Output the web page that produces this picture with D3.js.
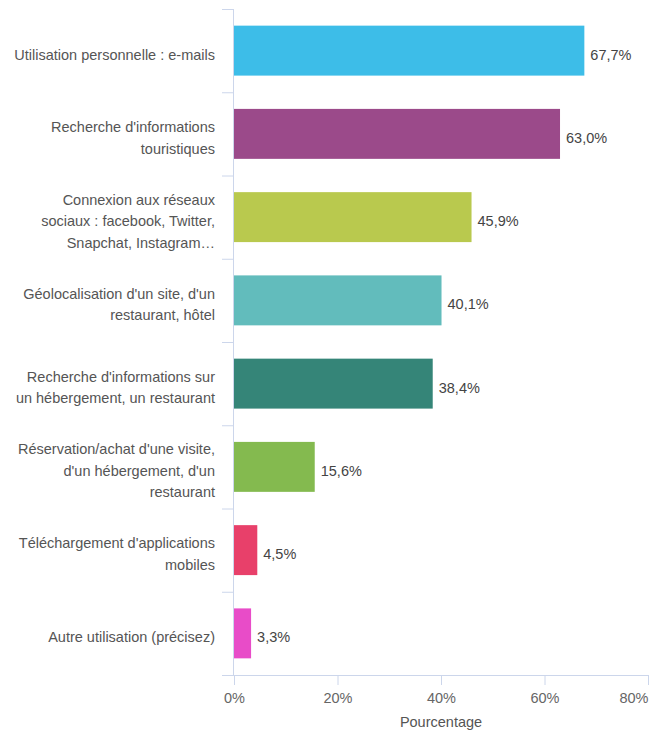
<!DOCTYPE html>
<html>
<head>
<meta charset="utf-8">
<script src="https://cdn.jsdelivr.net/npm/d3@7"></script>
<style>
  body { margin: 0; background: #fff; }
  text { font-family: "Liberation Sans", Arial, sans-serif; }
</style>
</head>
<body>
<div id="chart"></div>
<script>
const categories = [
  "Utilisation personnelle : e-mails",
  "Recherche d'informations touristiques",
  "Connexion aux réseaux sociaux : facebook, Twitter, Snapchat, Instagram…",
  "Géolocalisation d'un site, d'un restaurant, hôtel",
  "Recherche d'informations sur un hébergement, un restaurant",
  "Réservation/achat d'une visite, d'un hébergement, d'un restaurant",
  "Téléchargement d'applications mobiles",
  "Autre utilisation (précisez)"
];
const labelLines = [
  ["Utilisation personnelle : e-mails"],
  ["Recherche d'informations", "touristiques"],
  ["Connexion aux réseaux", "sociaux : facebook, Twitter,", "Snapchat, Instagram…"],
  ["Géolocalisation d'un site, d'un", "restaurant, hôtel"],
  ["Recherche d'informations sur", "un hébergement, un restaurant"],
  ["Réservation/achat d'une visite,", "d'un hébergement, d'un", "restaurant"],
  ["Téléchargement d'applications", "mobiles"],
  ["Autre utilisation (précisez)"]
];
const values = [67.7, 63.0, 45.9, 40.1, 38.4, 15.6, 4.5, 3.3];
const colors = ["#3dbde8", "#9b4a8a", "#b9c94e", "#62bcbc", "#358578", "#84ba4f", "#e8406a", "#e84cc8"];
const xTicks = [0, 20, 40, 60, 80];
const xTitle = "Pourcentage";

const w = 652, h = 730;
const plotLeft = 234, plotRight = 648, plotTop = 9, plotBottom = 675;
const axisColor = "#ccd6eb";
const fontSize = 14.5;

const fr = d3.formatLocale({ decimal: ",", thousands: " ", grouping: [3], currency: ["", "€"] });
const fmt = fr.format(".1f");

const svg = d3.select("#chart").append("svg")
  .attr("width", w)
  .attr("height", h);

const x = d3.scaleLinear().domain([0, 80]).range([plotLeft, plotRight]);
const y = d3.scaleBand().domain(categories).range([plotTop, plotBottom])
  .paddingInner(0.4).paddingOuter(0.2);
// category boundaries for the tick marks
const yTick = d3.scaleLinear().domain([0, categories.length]).range([plotTop, plotBottom]);

// left axis line + category ticks
svg.append("line")
  .attr("x1", plotLeft - 0.5).attr("x2", plotLeft - 0.5)
  .attr("y1", plotTop).attr("y2", plotBottom)
  .attr("stroke", axisColor);
svg.selectAll(".ytick")
  .data(d3.range(categories.length))
  .enter().append("line")
  .attr("class", "ytick")
  .attr("x1", plotLeft - 12).attr("x2", plotLeft)
  .attr("y1", d => yTick(d) + 0.5).attr("y2", d => yTick(d) + 0.5)
  .attr("stroke", axisColor);

// bars
svg.selectAll("rect.bar")
  .data(values)
  .enter().append("rect")
  .attr("class", "bar")
  .attr("x", plotLeft)
  .attr("y", (d, i) => y(categories[i]))
  .attr("width", d => x(d) - plotLeft)
  .attr("height", y.bandwidth())
  .attr("fill", (d, i) => colors[i]);

// value labels
svg.selectAll("text.val")
  .data(values)
  .enter().append("text")
  .attr("class", "val")
  .attr("x", d => x(d) + 6)
  .attr("y", (d, i) => y(categories[i]) + y.bandwidth() / 2 + 4)
  .attr("dominant-baseline", "central")
  .attr("font-size", fontSize)
  .attr("fill", "#444")
  .text(d => fmt(d) + "%");

// category labels
const lineH = 21.5;
svg.selectAll("text.cat")
  .data(labelLines)
  .enter().append("text")
  .attr("class", "cat")
  .attr("text-anchor", "end")
  .attr("font-size", fontSize)
  .attr("fill", "#555")
  .each(function(lines, i) {
    const cy = y(categories[i]) + y.bandwidth() / 2 + 4;
    const y0 = cy - (lines.length - 1) * lineH / 2;
    d3.select(this).selectAll("tspan")
      .data(lines)
      .enter().append("tspan")
      .attr("x", 215)
      .attr("y", (l, j) => y0 + j * lineH)
      .attr("dominant-baseline", "central")
      .text(l => l);
  });

// bottom axis
const xAxis = d3.axisBottom(x)
  .tickValues(xTicks)
  .tickSize(10)
  .tickFormat(d => d + "%");

const gx = svg.append("g")
  .attr("transform", `translate(0, ${plotBottom})`)
  .call(xAxis);
gx.select(".domain").remove();
gx.selectAll(".tick line").attr("stroke", axisColor);
gx.selectAll(".tick text")
  .attr("font-size", fontSize)
  .attr("font-family", "Liberation Sans, Arial, sans-serif")
  .attr("fill", "#666")
  .attr("dy", "1.05em");
// keep the last label inside the picture, like the original
gx.selectAll(".tick text")
  .filter(d => d === xTicks[xTicks.length - 1])
  .attr("text-anchor", "end")
  .attr("x", 0);
svg.append("line")
  .attr("x1", plotLeft - 12).attr("x2", plotRight + 1)
  .attr("y1", plotBottom + 0.5).attr("y2", plotBottom + 0.5)
  .attr("stroke", axisColor);

svg.append("text")
  .attr("x", (plotLeft + plotRight) / 2)
  .attr("y", 722)
  .attr("text-anchor", "middle")
  .attr("dominant-baseline", "central")
  .attr("font-size", fontSize)
  .attr("fill", "#555")
  .text(xTitle);
</script>
</body>
</html>
